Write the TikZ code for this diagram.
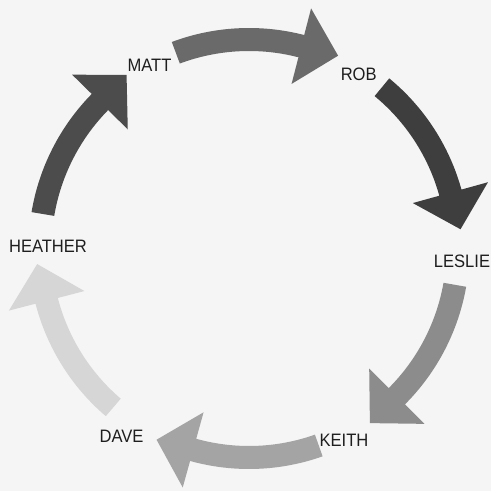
\documentclass[tikz,border=0pt]{standalone}
\usepackage{fontspec}
\setmainfont{Liberation Sans}[FakeStretch=0.92]
\usetikzlibrary{calc}
\definecolor{bgcol}{HTML}{F5F5F5}
\definecolor{txtcol}{HTML}{1E1E1E}
\definecolor{cA}{HTML}{6A6A6A}
\definecolor{cB}{HTML}{3E3E3E}
\definecolor{cC}{HTML}{8C8C8C}
\definecolor{cD}{HTML}{A4A4A4}
\definecolor{cE}{HTML}{D6D6D6}
\definecolor{cF}{HTML}{4C4C4C}
\newcommand\cyclearrow[2]{%
  \pgfmathsetmacro\ta{#1+22.5}%
  \pgfmathsetmacro\ba{#1-12.5}%
  \pgfmathsetmacro\tp{#1-22.8}%
  \fill[#2] ($(C)+(\ta:220.5pt)$) arc[start angle=\ta, end angle=\ba, radius=220.5pt]
    -- ($(C)+(\ba:248pt)$) -- ($(C)+(\tp:212.4pt)$) -- ($(C)+(\ba:170pt)$)
    -- ($(C)+(\ba:197.5pt)$) arc[start angle=\ba, end angle=\ta, radius=197.5pt] -- cycle;}
\tikzset{namelbl/.style={font=\fontsize{18}{20}\selectfont, text=txtcol, inner sep=0pt,
  text height=12.9pt, text depth=0pt, anchor=center}}
\begin{document}
\begin{tikzpicture}[x=1pt,y=1pt]
\fill[bgcol] (0,0) rectangle (491,491);
\useasboundingbox (0,0) rectangle (491,491);
\coordinate (C) at (249,242.5);
\node[namelbl] (matt) at (149.5,425.5) {MATT};
\node[namelbl] (rob) at (358.7,417.2) {ROB};
\node[namelbl] (leslie) at (462,229.5) {LESLIE};
\node[namelbl] (keith) at (344,51) {KEITH};
\node[namelbl] (dave) at (121.5,54.5) {DAVE};
\node[namelbl] (heather) at (48,244.7) {HEATHER};
\cyclearrow{88}{cA}
\cyclearrow{28}{cB}
\cyclearrow{-32.5}{cC}
\cyclearrow{-93}{cD}
\cyclearrow{-153}{cE}
\cyclearrow{148}{cF}
\end{tikzpicture}
\end{document}
